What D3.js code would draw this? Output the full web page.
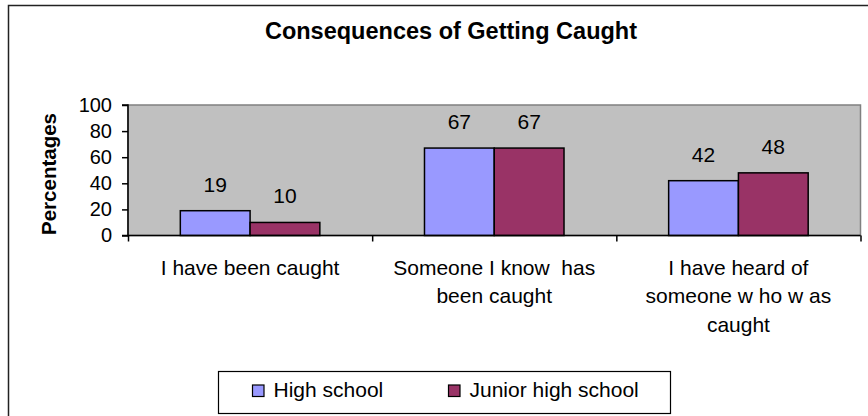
<!DOCTYPE html>
<html>
<head>
<meta charset="utf-8">
<script src="https://cdn.jsdelivr.net/npm/d3@7"></script>
<style>
  html, body { margin: 0; padding: 0; background: #fff; }
  svg { display: block; font-family: "Liberation Sans", Arial, sans-serif; }
  .cat tspan { white-space: pre; }
</style>
</head>
<body>
<svg id="chart" width="868" height="416"></svg>
<script>
// Survey results: share of respondents per consequence category
const categories = [
  ["I have been caught"],
  ["Someone I know  has", "been caught"],
  ["I have heard of", "someone w ho w as", "caught"]
];
const seriesNames = ["High school", "Junior high school"];
const highSchool = [19, 67, 42];
const juniorHigh = [10, 67, 48];
const yTicks = [0, 20, 40, 60, 80, 100];
const colors = ["#9999FF", "#993366"];

const svg = d3.select("#chart");
const plot = { left: 128, right: 860.5, top: 105, bottom: 235.5 };

// Outer chart frame
svg.append("rect")
  .attr("x", 8.5).attr("y", 5.5)
  .attr("width", 900).attr("height", 500)
  .attr("fill", "#fff").attr("stroke", "#222").attr("stroke-width", 1.5);

// Title
svg.append("text")
  .attr("x", 451).attr("y", 38.5)
  .attr("text-anchor", "middle")
  .attr("font-weight", "bold").attr("font-size", 23.5)
  .text("Consequences of Getting Caught");

const x0 = d3.scaleBand()
  .domain(d3.range(categories.length))
  .range([plot.left, plot.right])
  .paddingInner(0).paddingOuter(0);
const x1 = d3.scaleBand()
  .domain(d3.range(seriesNames.length))
  .range([0, x0.bandwidth()])
  .paddingOuter(0.75).paddingInner(0);
const y = d3.scaleLinear().domain([0, 100]).range([plot.bottom, plot.top]);

// Plot area background
svg.append("rect")
  .attr("x", plot.left).attr("y", plot.top)
  .attr("width", plot.right - plot.left).attr("height", plot.bottom - plot.top)
  .attr("fill", "#C0C0C0").attr("stroke", "#808080").attr("stroke-width", 1.5);

// Bars
const groups = svg.append("g").selectAll("g")
  .data(categories.map((c, i) => [highSchool[i], juniorHigh[i]]))
  .join("g")
  .attr("transform", (d, i) => `translate(${x0(i)},0)`);

groups.selectAll("rect")
  .data(d => d)
  .join("rect")
  .attr("x", (d, j) => x1(j))
  .attr("y", d => y(d))
  .attr("width", x1.bandwidth())
  .attr("height", d => y(0) - y(d))
  .attr("fill", (d, j) => colors[j])
  .attr("stroke", "#000").attr("stroke-width", 1.5);

// Value labels
groups.selectAll("text")
  .data(d => d)
  .join("text")
  .attr("x", (d, j) => x1(j) + x1.bandwidth() / 2)
  .attr("y", d => y(d) - 19)
  .attr("text-anchor", "middle")
  .attr("font-size", 21)
  .text(d => d);

// Y axis
const yAxis = d3.axisLeft(y).tickValues(yTicks).tickSize(6).tickPadding(10);
const gy = svg.append("g").attr("transform", `translate(${plot.left},0)`).call(yAxis);
gy.select(".domain").attr("stroke", "#000").attr("stroke-width", 1.5).attr("d", `M-6,${plot.top}H0V${plot.bottom}H-6`);
gy.selectAll(".tick line").attr("stroke", "#000").attr("stroke-width", 1.5);
gy.selectAll(".tick text").attr("font-size", 20).attr("fill", "#000")
  .attr("font-family", "Liberation Sans, Arial, sans-serif");

// X axis baseline with boundary ticks
const xAxis = d3.axisBottom(d3.scaleLinear().domain([0, 3]).range([plot.left, plot.right]))
  .tickValues([0, 1, 2, 3]).tickSize(6).tickFormat("");
const gx = svg.append("g").attr("transform", `translate(0,${plot.bottom})`).call(xAxis);
gx.select(".domain").attr("stroke", "#000").attr("stroke-width", 1.5).attr("d", `M${plot.left},0H${plot.right}`);
gx.selectAll(".tick line").attr("stroke", "#000").attr("stroke-width", 1.5);

// Category labels
svg.append("g").attr("class", "cat").selectAll("text")
  .data(categories)
  .join("text")
  .attr("x", (d, i) => x0(i) + x0.bandwidth() / 2)
  .attr("y", 274.5)
  .attr("text-anchor", "middle")
  .attr("font-size", 21)
  .selectAll("tspan")
  .data(d => d)
  .join("tspan")
  .attr("x", function () { return this.parentNode.getAttribute("x"); })
  .attr("dy", (d, k) => k === 0 ? 0 : 28.5)
  .text(d => d);

// Y axis title
svg.append("text")
  .attr("transform", "translate(56,174) rotate(-90)")
  .attr("text-anchor", "middle")
  .attr("font-weight", "bold").attr("font-size", 20.5)
  .text("Percentages");

// Legend
const legend = svg.append("g");
legend.append("rect")
  .attr("x", 218.5).attr("y", 371.5).attr("width", 452).attr("height", 42)
  .attr("fill", "#fff").attr("stroke", "#000").attr("stroke-width", 1.2);
const legendX = [252.5, 448.5];
const items = legend.selectAll("g.item")
  .data(seriesNames)
  .join("g").attr("class", "item")
  .attr("transform", (d, i) => `translate(${legendX[i]},385)`);
items.append("rect")
  .attr("width", 11.5).attr("height", 11.5)
  .attr("fill", (d, i) => colors[i]).attr("stroke", "#000").attr("stroke-width", 1.2);
items.append("text")
  .attr("x", 21).attr("y", 12)
  .attr("font-size", 21)
  .text(d => d);
</script>
</body>
</html>
